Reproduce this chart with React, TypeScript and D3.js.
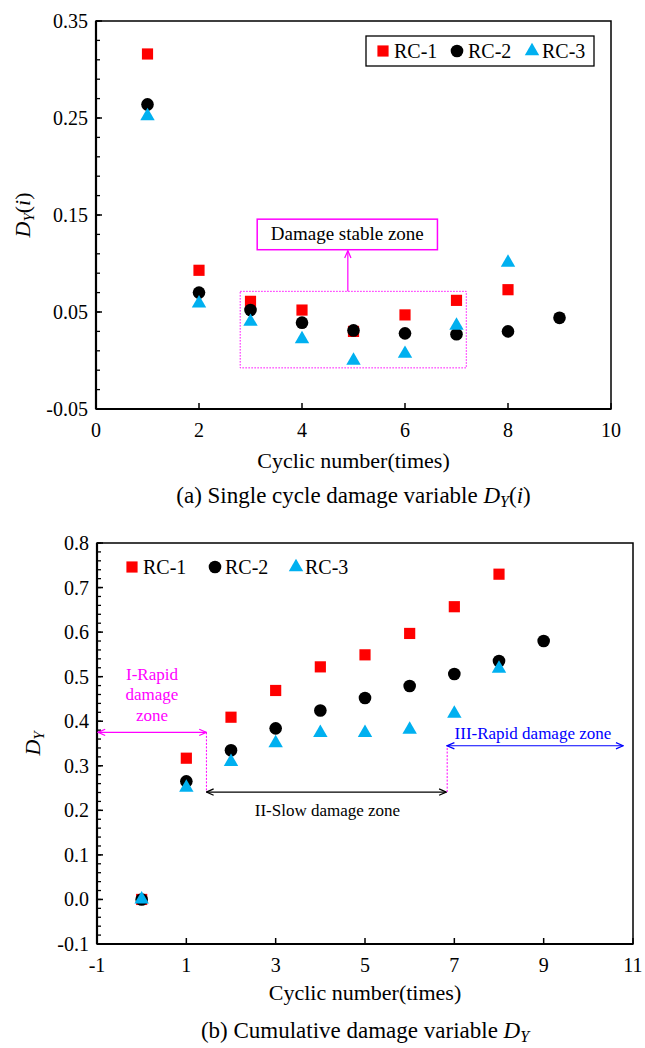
import * as d3 from 'd3';

const FONT = '"Liberation Serif", "Times New Roman", serif';

// (a) single cycle damage variable
const singleCycles = [1, 2, 3, 4, 5, 6, 7, 8, 9];
const singleRC1 = [0.316, 0.093, 0.061, 0.052, 0.03, 0.047, 0.062, 0.073];
const singleRC2 = [0.264, 0.07, 0.052, 0.039, 0.031, 0.028, 0.027, 0.03, 0.044];
const singleRC3 = [0.252, 0.059, 0.04, 0.022, 0.0, 0.007, 0.036, 0.101];
const singleXTicks = [0, 2, 4, 6, 8, 10];
const singleYTicks = [-0.05, 0.05, 0.15, 0.25, 0.35];

// (b) cumulative damage variable
const cumCycles = [0, 1, 2, 3, 4, 5, 6, 7, 8, 9];
const cumRC1 = [0, 0.317, 0.409, 0.469, 0.522, 0.549, 0.597, 0.657, 0.73];
const cumRC2 = [0, 0.265, 0.335, 0.384, 0.424, 0.452, 0.479, 0.506, 0.535, 0.58];
const cumRC3 = [0, 0.251, 0.309, 0.351, 0.374, 0.374, 0.381, 0.417, 0.518];
const cumXTicks = [-1, 1, 3, 5, 7, 9, 11];
const cumYTicks = [-0.1, 0, 0.1, 0.2, 0.3, 0.4, 0.5, 0.6, 0.7, 0.8];

const seriesNames = ['RC-1', 'RC-2', 'RC-3'];
const seriesColors = ['#FF0000', '#000000', '#00B0F0'];
const symbolTypes = [d3.symbolSquare, d3.symbolCircle, d3.symbolTriangle];
const symbolSizes = [125, 125, 90];

function Mark({ i, x, y }: { i: number; x: number; y: number }) {
  const d = d3.symbol(symbolTypes[i], symbolSizes[i])() || '';
  return <path transform={`translate(${x},${y})`} d={d} fill={seriesColors[i]} />;
}

function Frame({ x, y, xTicks, yTicks, yMinorStep, yFmt }: any) {
  const [x0, x1] = x.range();
  const [y0, y1] = y.range(); // y0 bottom, y1 top
  const [d0, d1] = y.domain();
  const minor = d3.range(d0, d1 + 1e-9, yMinorStep);
  return (
    <g>
      <rect x={x0} y={y1} width={x1 - x0} height={y0 - y1} fill="none" stroke="#000" strokeWidth={1.5} />
      <line x1={x0} x2={x0} y1={y1} y2={y0} stroke="#000" strokeWidth={2.2} />
      <line x1={x0} x2={x1} y1={y0} y2={y0} stroke="#000" strokeWidth={2.2} />
      {minor.map((v: number, k: number) => (
        <line key={'m' + k} x1={x0} x2={x0 + 4} y1={y(v)} y2={y(v)} stroke="#000" strokeWidth={1.3} />
      ))}
      {yTicks.map((v: number) => (
        <g key={'y' + v}>
          <line x1={x0} x2={x0 + 6} y1={y(v)} y2={y(v)} stroke="#000" strokeWidth={1.5} />
          <text x={x0 - 8} y={y(v) + 7} textAnchor="end" fontSize={20} fontFamily={FONT}>
            {yFmt(v)}
          </text>
        </g>
      ))}
      {xTicks.map((v: number) => (
        <g key={'x' + v}>
          <line x1={x(v)} x2={x(v)} y1={y0} y2={y0 - 6} stroke="#000" strokeWidth={1.5} />
          <text x={x(v)} y={y0 + 28} textAnchor="middle" fontSize={20} fontFamily={FONT}>
            {v}
          </text>
        </g>
      ))}
    </g>
  );
}

function Legend({ items }: { items: { cx: number; tx: number }[] }) {
  return (
    <g>
      {items.map((it, i) => (
        <g key={i}>
          <Mark i={i} x={it.cx} y={0} />
          <text x={it.tx} y={7} fontSize={20} fontFamily={FONT}>
            {seriesNames[i]}
          </text>
        </g>
      ))}
    </g>
  );
}

export default function App() {
  const xA = d3.scaleLinear().domain([0, 10]).range([96, 611]);
  const yA = d3.scaleLinear().domain([-0.05, 0.35]).range([409, 21]);
  const xB = d3.scaleLinear().domain([-1, 11]).range([97, 633]);
  const yB = d3.scaleLinear().domain([-0.1, 0.8]).range([944, 543]);

  const singleSeries = [singleRC1, singleRC2, singleRC3];
  const cumSeries = [cumRC1, cumRC2, cumRC3];

  const magenta = '#FF00FF';
  const blue = '#0000FF';

  const arrowDefs = [
    ['arrM', magenta],
    ['arrK', '#000'],
    ['arrB', blue],
  ];

  return (
    <svg width={645} height={1048} style={{ position: 'absolute', left: 0, top: 0, background: '#fff' }}>
      <defs>
        {arrowDefs.map(([id, c]) => (
          <marker key={id} id={id} viewBox="0 0 10 10" refX={9} refY={5} markerWidth={9} markerHeight={9}
            markerUnits="userSpaceOnUse" orient="auto-start-reverse">
            <path d="M1,1.5 L9,5 L1,8.5" fill="none" stroke={c} strokeWidth={1.4} />
          </marker>
        ))}
      </defs>
      <rect width={645} height={1048} fill="#fff" />

      {/* ---------- (a) ---------- */}
      <Frame x={xA} y={yA} xTicks={singleXTicks} yTicks={singleYTicks} yMinorStep={0.02}
        yFmt={(v: number) => v.toFixed(2)} />

      {/* stable zone annotation */}
      <rect x={xA(2.8)} y={yA(0.0713)} width={xA(7.19) - xA(2.8)} height={yA(-0.0076) - yA(0.0713)}
        fill="none" stroke={magenta} strokeWidth={1} strokeDasharray="1.5,1.5" />
      <line x1={xA(4.89)} x2={xA(4.89)} y1={yA(0.0713)} y2={yA(0.1142) + 1} stroke={magenta}
        strokeWidth={1.2} markerEnd="url(#arrM)" />
      <rect x={xA(3.13)} y={yA(0.1457)} width={xA(6.63) - xA(3.13)} height={yA(0.1142) - yA(0.1457)}
        fill="#fff" stroke={magenta} strokeWidth={1.5} />
      <text x={(xA(3.13) + xA(6.63)) / 2} y={(yA(0.1457) + yA(0.1142)) / 2 + 6} textAnchor="middle"
        fontSize={19} fontFamily={FONT}>
        Damage stable zone
      </text>

      {singleSeries.map((s, i) => (
        <g key={'a' + i}>
          {s.map((v, k) => (
            <Mark key={k} i={i} x={xA(singleCycles[k])} y={yA(v)} />
          ))}
        </g>
      ))}

      <rect x={366} y={36} width={228} height={30} fill="#fff" stroke="#000" strokeWidth={1.3} />
      <g transform="translate(0,51)">
        <Legend items={[{ cx: 383, tx: 394 }, { cx: 457, tx: 468 }, { cx: 532, tx: 542 }]} />
      </g>

      <text transform={`translate(30,${(yA(0.35) + yA(-0.05)) / 2}) rotate(-90)`} textAnchor="middle"
        fontSize={22} fontFamily={FONT}>
        <tspan fontStyle="italic">D</tspan>
        <tspan fontStyle="italic" fontSize={15} dy={4}>Y</tspan>
        <tspan dy={-4}>(</tspan>
        <tspan fontStyle="italic">i</tspan>
        <tspan>)</tspan>
      </text>
      <text x={(xA(0) + xA(10)) / 2} y={468} textAnchor="middle" fontSize={22} fontFamily={FONT}>
        Cyclic number(times)
      </text>
      <text x={(xA(0) + xA(10)) / 2} y={503} textAnchor="middle" fontSize={23} fontFamily={FONT}>
        <tspan>(a) Single cycle damage variable </tspan>
        <tspan fontStyle="italic">D</tspan>
        <tspan fontStyle="italic" fontSize={16} dy={4}>Y</tspan>
        <tspan dy={-4}>(</tspan>
        <tspan fontStyle="italic">i</tspan>
        <tspan>)</tspan>
      </text>

      {/* ---------- (b) ---------- */}
      <Frame x={xB} y={yB} xTicks={cumXTicks} yTicks={cumYTicks} yMinorStep={0.02}
        yFmt={(v: number) => v.toFixed(1)} />

      {/* zone annotations */}
      <line x1={xB(-1) + 1} x2={xB(1.45)} y1={yB(0.375)} y2={yB(0.375)} stroke={magenta} strokeWidth={1.2}
        markerStart="url(#arrM)" markerEnd="url(#arrM)" />
      <line x1={xB(1.45)} x2={xB(1.45)} y1={yB(0.375)} y2={yB(0.241)} stroke={magenta} strokeWidth={1}
        strokeDasharray="2,1.5" />
      <line x1={xB(1.45)} x2={xB(6.82)} y1={yB(0.241)} y2={yB(0.241)} stroke="#000" strokeWidth={1.2}
        markerStart="url(#arrK)" markerEnd="url(#arrK)" />
      <line x1={xB(6.84)} x2={xB(6.84)} y1={yB(0.241)} y2={yB(0.345)} stroke={magenta} strokeWidth={1}
        strokeDasharray="2,1.5" />
      <line x1={xB(6.84)} x2={xB(10.78)} y1={yB(0.345)} y2={yB(0.345)} stroke={blue} strokeWidth={1.2}
        markerStart="url(#arrB)" markerEnd="url(#arrB)" />

      <text textAnchor="middle" fontSize={17} fontFamily={FONT} fill={magenta}>
        <tspan x={xB(0.23)} y={yB(0.505) + 6}>I-Rapid</tspan>
        <tspan x={xB(0.23)} y={yB(0.46) + 6}>damage</tspan>
        <tspan x={xB(0.23)} y={yB(0.413) + 6}>zone</tspan>
      </text>
      <text x={xB(4.16)} y={yB(0.2) + 6} textAnchor="middle" fontSize={17} fontFamily={FONT}>
        II-Slow damage zone
      </text>
      <text x={xB(8.76)} y={yB(0.374) + 6} textAnchor="middle" fontSize={17} fontFamily={FONT} fill={blue}>
        III-Rapid damage zone
      </text>

      {cumSeries.map((s, i) => (
        <g key={'b' + i}>
          {s.map((v, k) => (
            <Mark key={k} i={i} x={xB(cumCycles[k])} y={yB(v)} />
          ))}
        </g>
      ))}

      <g transform="translate(0,567)">
        <Legend items={[{ cx: 132, tx: 143 }, { cx: 215, tx: 225 }, { cx: 296, tx: 305 }]} />
      </g>

      <text transform={`translate(40,${(yB(0.8) + yB(-0.1)) / 2}) rotate(-90)`} textAnchor="middle"
        fontSize={22} fontFamily={FONT}>
        <tspan fontStyle="italic">D</tspan>
        <tspan fontStyle="italic" fontSize={15} dy={4}>Y</tspan>
      </text>
      <text x={(xB(-1) + xB(11)) / 2} y={1000} textAnchor="middle" fontSize={22} fontFamily={FONT}>
        Cyclic number(times)
      </text>
      <text x={(xB(-1) + xB(11)) / 2} y={1038} textAnchor="middle" fontSize={23} fontFamily={FONT}>
        <tspan>(b) Cumulative damage variable </tspan>
        <tspan fontStyle="italic">D</tspan>
        <tspan fontStyle="italic" fontSize={16} dy={4}>Y</tspan>
      </text>
    </svg>
  );
}
